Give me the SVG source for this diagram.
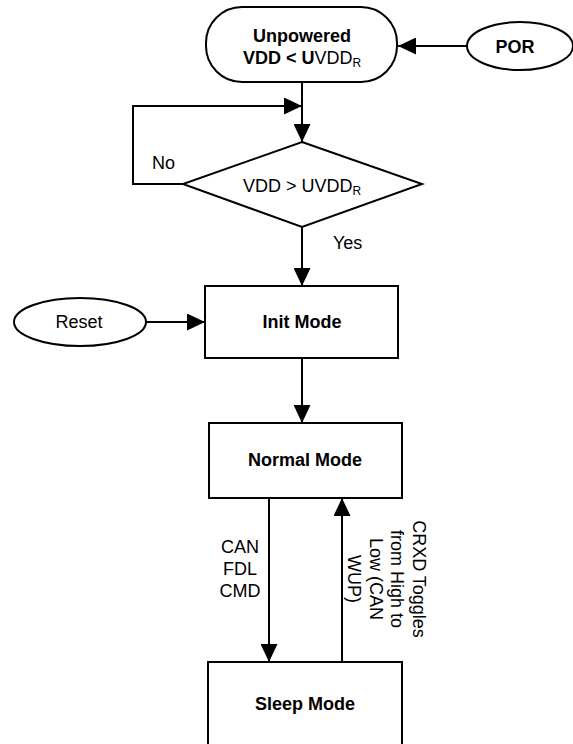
<svg xmlns="http://www.w3.org/2000/svg" width="573" height="744" viewBox="0 0 573 744">
<style>
.shape{fill:#fff;stroke:#000;stroke-width:2}
.conn{fill:none;stroke:#000;stroke-width:2}
text{font-family:"Liberation Sans",Arial,sans-serif;font-size:18px;fill:#000}
.b{font-weight:bold}
.m{text-anchor:middle}
.sub{font-size:12px}
</style>
<defs>
<marker id="arr" markerUnits="userSpaceOnUse" viewBox="0 0 18 17" refX="18" refY="8.5" markerWidth="18" markerHeight="17" orient="auto">
<path d="M0,0 L18,8.5 L0,17 z" fill="#000"/>
</marker>
</defs>
<rect width="573" height="744" fill="#fff"/>
<g id="connectors">
<line class="conn" x1="467" y1="46" x2="398" y2="46" marker-end="url(#arr)"/>
<line class="conn" x1="302" y1="82" x2="302" y2="142" marker-end="url(#arr)"/>
<polyline class="conn" points="183,184 133,184 133,106 302,106" marker-end="url(#arr)"/>
<line class="conn" x1="302" y1="227" x2="302" y2="286" marker-end="url(#arr)"/>
<line class="conn" x1="146" y1="322" x2="205" y2="322" marker-end="url(#arr)"/>
<line class="conn" x1="302" y1="358" x2="302" y2="423" marker-end="url(#arr)"/>
<line class="conn" x1="269" y1="498" x2="269" y2="662" marker-end="url(#arr)"/>
<line class="conn" x1="342" y1="662" x2="342" y2="498" marker-end="url(#arr)"/>
<text x="152" y="169">No</text>
<text x="333" y="249">Yes</text>
<text class="m" x="240" y="553">CAN<tspan x="240" dy="22">FDL</tspan><tspan x="240" dy="22">CMD</tspan></text>
<text class="m" transform="translate(413,579) rotate(90)">CRXD Toggles<tspan x="0" dy="21.7">from High to</tspan><tspan x="0" dy="21.7">Low (CAN</tspan><tspan x="0" dy="21.7">WUP)</tspan></text>
</g>
<g id="unpowered">
<rect class="shape" x="206" y="7" width="191" height="75" rx="36" ry="36"/>
<text class="m b" x="302" y="42">Unpowered</text>
<text class="m" x="302" y="64"><tspan class="b">VDD &lt; U</tspan>VDD<tspan class="sub" dy="3">R</tspan></text>
</g>
<g id="por">
<ellipse class="shape" cx="520" cy="46" rx="53" ry="24"/>
<text class="m b" x="515" y="53">POR</text>
</g>
<g id="decision">
<polygon class="shape" points="302,142 422,184 302,227 183,184"/>
<text class="m" x="302" y="192">VDD &gt; UVDD<tspan class="sub" dy="3">R</tspan></text>
</g>
<g id="reset">
<ellipse class="shape" cx="80" cy="322" rx="66" ry="24"/>
<text class="m" x="79" y="328">Reset</text>
</g>
<g id="init">
<rect class="shape" x="205" y="286" width="193" height="72"/>
<text class="m b" x="302" y="328">Init Mode</text>
</g>
<g id="normal">
<rect class="shape" x="209" y="423" width="193" height="75"/>
<text class="m b" x="305" y="466">Normal Mode</text>
</g>
<g id="sleep">
<rect class="shape" x="208" y="662" width="194" height="100"/>
<text class="m b" x="305" y="710">Sleep Mode</text>
</g>
</svg>
